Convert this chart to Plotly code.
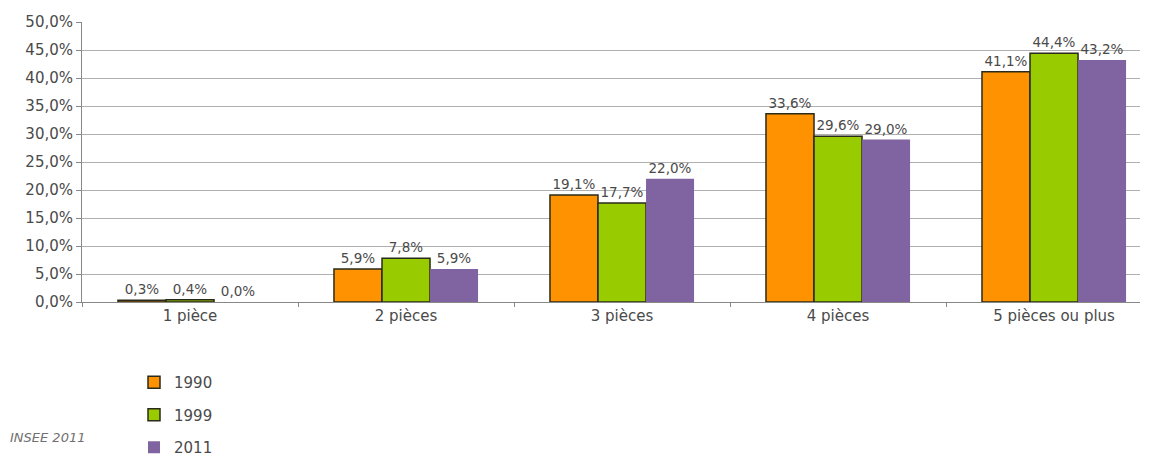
import plotly.graph_objects as go

categories = ["1 pièce", "2 pièces", "3 pièces", "4 pièces", "5 pièces ou plus"]
years = ["1990", "1999", "2011"]
values_1990 = [0.3, 5.9, 19.1, 33.6, 41.1]
values_1999 = [0.4, 7.8, 17.7, 29.6, 44.4]
values_2011 = [0.0, 5.9, 22.0, 29.0, 43.2]
y_ticks = [0, 5, 10, 15, 20, 25, 30, 35, 40, 45, 50]

series = [values_1990, values_1999, values_2011]
colors = ["#FF9200", "#99CC00", "#8064A2"]
outlines = ["#2a2a1a", "#2a2a1a", "#8064A2"]
outline_w = [1.5, 1.5, 0]

FONT = "DejaVu Sans, Verdana, sans-serif"
TXT = "#4a4a4a"

W, H = 1155, 456
L, R, T, B = 82, 15, 22, 154
plot_h = H - T - B
plot_w = W - L - R


def fr(v):
    return f"{v:.1f}".replace(".", ",") + "%"


fig = go.Figure()
for name, vals, c, oc, ow in zip(years, series, colors, outlines, outline_w):
    fig.add_trace(go.Bar(
        x=categories, y=vals, name=name, legendgroup=name,
        marker=dict(color=c, line=dict(color=oc, width=ow)),
        text=[fr(v) for v in vals], textposition="outside",
        textfont=dict(size=13.5, color=TXT, family=FONT),
        cliponaxis=False,
    ))

fig.update_layout(
    width=W, height=H,
    margin=dict(l=L, r=R, t=T, b=B, autoexpand=False),
    paper_bgcolor="white", plot_bgcolor="white",
    barmode="group", bargap=0.333, bargroupgap=0,
    font=dict(family=FONT, size=14, color=TXT),
    showlegend=True,
    legend=dict(
        x=134 / W, xref="container", xanchor="left",
        y=1 - 366 / H, yref="container", yanchor="top",
        tracegroupgap=10, itemwidth=30,
        font=dict(size=15, color=TXT, family=FONT),
        bgcolor="rgba(0,0,0,0)",
    ),
    annotations=[dict(
        text="<i>INSEE 2011</i>",
        x=(8 - L) / plot_w, xref="paper",
        y=-(437 - (H - B)) / plot_h, yref="paper",
        showarrow=False, xanchor="left", yanchor="middle",
        font=dict(size=13, color="#707070", family=FONT),
    )],
)

fig.update_xaxes(
    range=[-0.5, 4.398],
    showline=True, linecolor="#888888", linewidth=1,
    ticks="outside", ticklen=4, tickcolor="#888888",
    tickson="boundaries",
    tickfont=dict(size=15, color=TXT, family=FONT),
    showgrid=False,
)
fig.update_yaxes(
    range=[0, 50],
    tickvals=y_ticks,
    ticktext=[fr(v) for v in y_ticks],
    showline=True, linecolor="#888888", linewidth=1,
    ticks="outside", ticklen=5, tickcolor="#888888",
    showgrid=True, gridcolor="#b0b0b0", gridwidth=1,
    tickfont=dict(size=15, color=TXT, family=FONT),
    zeroline=False,
)

fig.write_html("out.html")
